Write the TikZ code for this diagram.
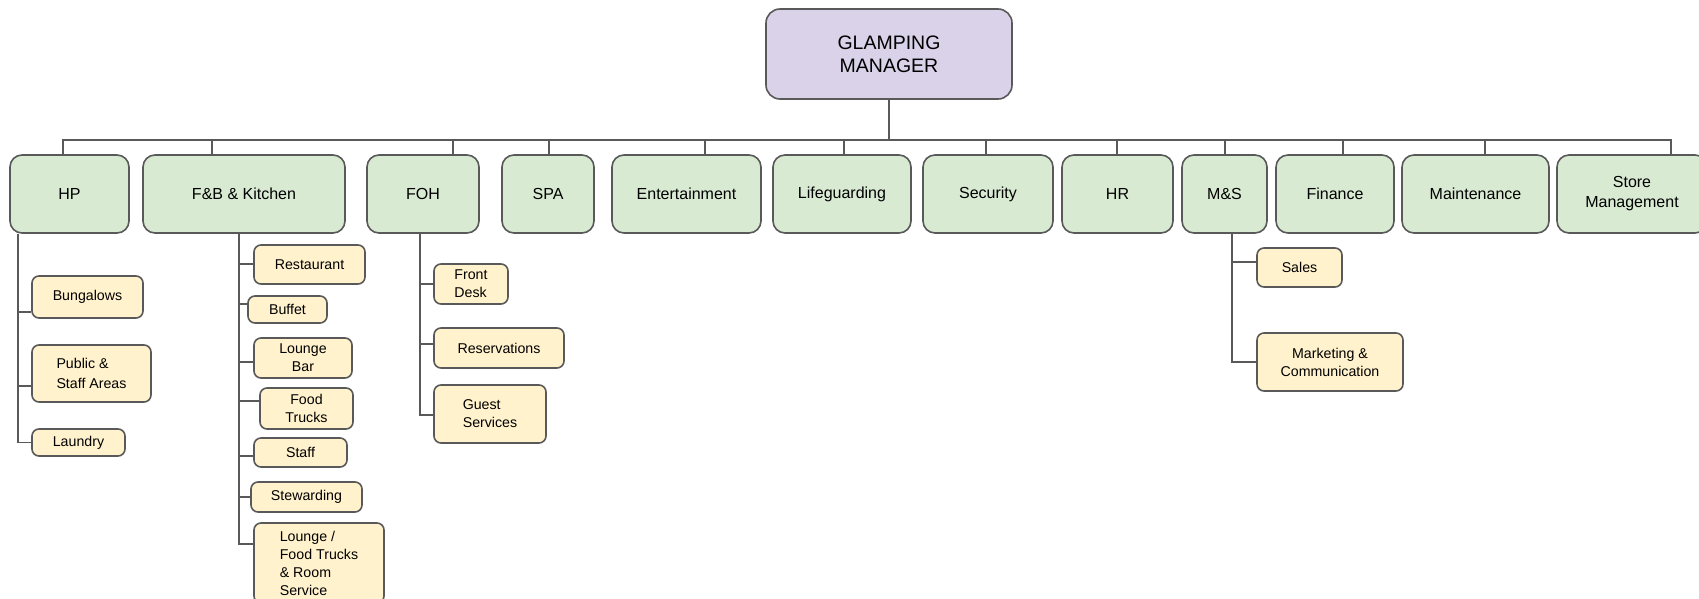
\documentclass[tikz,border=0pt]{standalone}
\usepackage{fontspec}
\setmainfont{Liberation Sans}
\definecolor{edge}{HTML}{595959}
\definecolor{headfill}{HTML}{D9D2E9}
\definecolor{deptfill}{HTML}{D9EAD3}
\definecolor{unitfill}{HTML}{FFF2CC}
\begin{document}
\begin{tikzpicture}[x=1pt,y=-1pt,
  head/.style={draw=edge, line width=1.6pt, fill=headfill, rounded corners=14pt,
    minimum width=246pt, minimum height=90pt, inner sep=0pt, align=center,
    font=\fontsize{19.5}{23.3}\selectfont},
  dept/.style={draw=edge, line width=1.6pt, fill=deptfill, rounded corners=12pt,
    minimum width=#1, minimum height=78pt, inner sep=0pt, align=center,
    font=\fontsize{16}{20}\selectfont},
  unit/.style 2 args={draw=edge, line width=1.6pt, fill=unitfill, rounded corners=7pt,
    minimum width=#1, minimum height=#2, inner sep=0pt, align=center,
    font=\fontsize{14.2}{18}\selectfont},
  lunit/.style 2 args={unit={#1}{#2}, align=left},
  link/.style={draw=edge, line width=1.8pt}]
\useasboundingbox (0,0) rectangle (1699,598);
\fill[white] (0,0) rectangle (1699,598);
\clip (0,0) rectangle (1699,598);

% top of the chart
\node[head] (gm) at (889,54) {GLAMPING\\MANAGER};

% departments
\node[dept=119pt] (hp)    at (69.5,194)   {HP};
\node[dept=202pt] (fb)    at (244,194)    {F\&B \& Kitchen};
\node[dept=112pt] (foh)   at (423,194)    {FOH};
\node[dept=92pt]  (spa)   at (548,194)    {SPA};
\node[dept=149pt] (ent)   at (686.5,194)  {Entertainment};
\node[dept=138pt] (life)  at (842,194)    {Lifeguarding};
\node[dept=130pt] (sec)   at (988,194)    {Security};
\node[dept=111pt] (hr)    at (1117.5,194) {HR};
\node[dept=85pt]  (ms)    at (1224.5,194) {M\&S};
\node[dept=118pt] (fin)   at (1335,194)   {Finance};
\node[dept=147pt] (mnt)   at (1475.5,194) {Maintenance};
\node[dept=150pt] (store) at (1632,194)   {Store\\Management};

% units under HP
\node[unit={111pt}{42pt}] (bung) at (87.5,297) {Bungalows};
\node[lunit={119pt}{57pt}, font=\fontsize{14.2}{20.5}\selectfont] (pub) at (91.5,373.5) {Public \&\\Staff Areas};
\node[unit={93pt}{27pt}] (laun) at (78.5,442.5) {Laundry};

% units under F&B & Kitchen
\node[unit={111pt}{39pt}] (rest)  at (309.5,264.5) {Restaurant};
\node[unit={79pt}{27pt}]  (buf)   at (287.5,309.5) {Buffet};
\node[unit={98pt}{40pt}]  (lbar)  at (303,358)     {Lounge\\Bar};
\node[unit={93pt}{41pt}]  (ftr)   at (306.5,408.5) {Food\\Trucks};
\node[unit={93pt}{29pt}]  (staff) at (300.5,452.5) {Staff};
\node[unit={111pt}{30pt}] (stew)  at (306.5,497)   {Stewarding};
\node[lunit={130pt}{80pt}] (lft)  at (319,563)     {Lounge /\\Food Trucks\\\& Room\\Service};

% units under FOH
\node[lunit={74pt}{40pt}]  (fd)  at (471,284) {Front\\Desk};
\node[unit={130pt}{40pt}]  (res) at (499,348) {Reservations};
\node[lunit={112pt}{58pt}] (gs)  at (490,414) {Guest\\Services};

% units under M&S
\node[unit={85pt}{39pt}]  (sales) at (1299.5,267.5) {Sales};
\node[unit={146pt}{58pt}] (mkt)   at (1330,362)     {Marketing \&\\Communication};

% bus from the manager to every department
\coordinate (bus) at (889,140);
\foreach \n/\d in {hp/-6.5, fb/-32, foh/30, spa/1, ent/18.5, life/2, sec/-2,
                   hr/-0.5, ms/0.5, fin/8, mnt/9.5, store/39}{
  \coordinate (t-\n) at ([xshift=\d pt]\n.north);
  \draw[link] (gm.south) |- (t-\n |- bus) -- (t-\n);
}

% trunks from departments to their units
\coordinate (hp-t)  at ([xshift=9pt]hp.south west);
\coordinate (fb-t)  at ([xshift=-5pt]fb.south);
\coordinate (foh-t) at ([xshift=-3pt]foh.south);
\coordinate (ms-t)  at ([xshift=7.5pt]ms.south);
\foreach \n/\d in {bung/-15, pub/-12.5, laun/0}
  \draw[link] (hp-t) |- ([yshift=\d pt]\n.west);
\foreach \n/\d in {rest/0.5, buf/5.5, lbar/-4, ftr/7.5, staff/-3.5, stew/0, lft/19}
  \draw[link] (fb-t) |- ([yshift=\d pt]\n.west);
\foreach \n/\d in {fd/0, res/4, gs/-1}
  \draw[link] (foh-t) |- ([yshift=\d pt]\n.west);
\foreach \n/\d in {sales/5.5, mkt/0}
  \draw[link] (ms-t) |- ([yshift=\d pt]\n.west);
\end{tikzpicture}
\end{document}
